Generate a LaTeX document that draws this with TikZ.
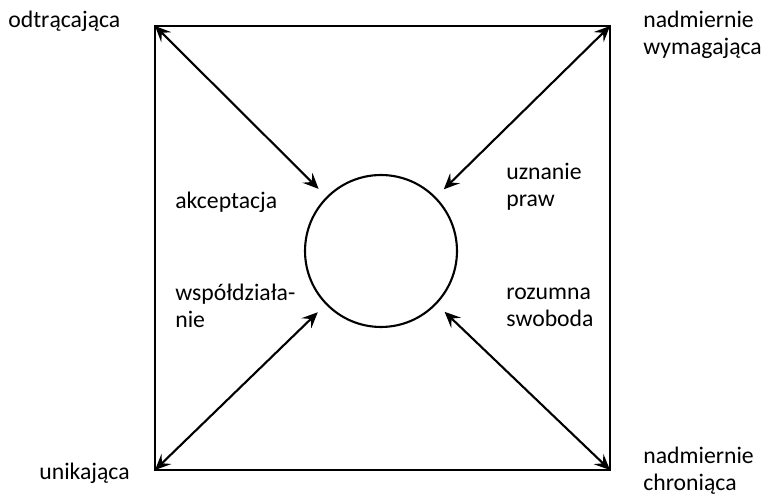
\documentclass[tikz,border=0pt]{standalone}
\usepackage{fontspec}
\setmainfont{Carlito}
\usetikzlibrary{arrows.meta,positioning}

\begin{document}
\begin{tikzpicture}[
        x=0.02cm, y=-0.02cm,
        >={Stealth[length=9pt, width=8pt, inset=3.5pt]},
        every node/.style={font=\fontsize{13.5}{15.5}\selectfont, align=left, inner sep=0pt, anchor=base west},
        frame/.style={line width=1.7pt},
        link/.style={line width=1.2pt, <->, shorten >=0.22cm}
    ]
    \useasboundingbox (0,0) rectangle (765,496);

    \coordinate (nw) at (155,26);
    \coordinate (ne) at (610,26);
    \coordinate (sw) at (155,470);
    \coordinate (se) at (610,470);
    \draw[frame] (nw) rectangle (se);

    \node[circle, draw, line width=1.2pt, minimum size=3.04cm, anchor=center] (c) at (381,251) {};

    \path (nw) edge[link] (c)
          (ne) edge[link] (c)
          (sw) edge[link] (c)
          (se) edge[link] (c);

    % corner labels (base = last line)
    \node (odtr) at (8,28) {odtrącająca};
    \node (unik) at (39,480) {unikająca};
    \node (wymag) at (643,55) {nadmiernie\\wymagająca};
    \node (chron) at (643,491) {nadmiernie\\chroniąca};

    % inner labels
    \node (akc) at (175,209) {akceptacja};
    \node (uzn) at (506,207) {uznanie\\praw};
    \node (wsp) at (175,328) {współdziała-\\nie};
    \node (roz) at (506,327) {rozumna\\swoboda};
\end{tikzpicture}
\end{document}
